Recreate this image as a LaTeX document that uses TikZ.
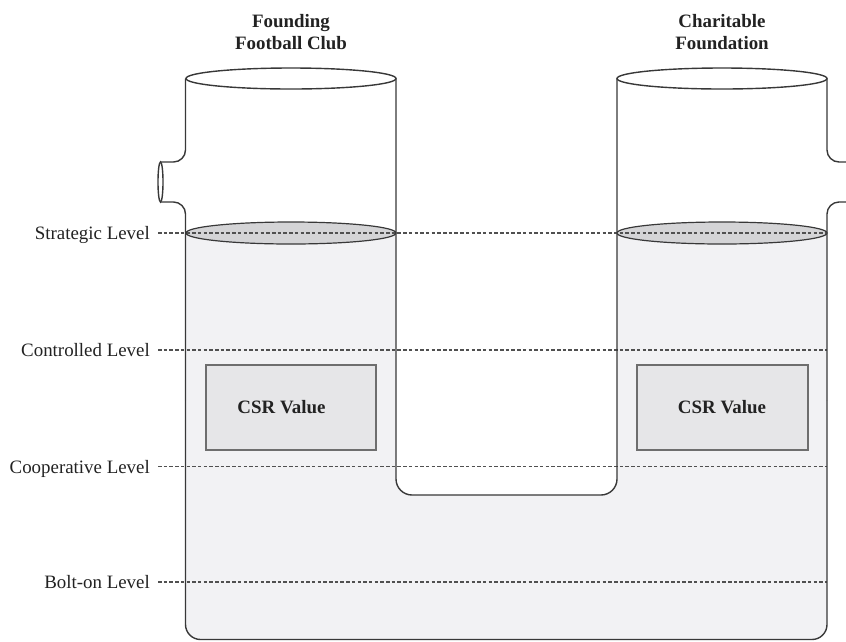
\documentclass[tikz,border=0pt]{standalone}
\usepackage{fontspec}
\setmainfont{Liberation Serif}
\definecolor{linegray}{HTML}{383838}
\definecolor{dashgray}{HTML}{505050}
\definecolor{liquid}{HTML}{F2F2F4}
\definecolor{ellgray}{HTML}{D4D4D6}
\definecolor{boxgray}{HTML}{E6E6E8}
\definecolor{boxline}{HTML}{6E6E6E}
\definecolor{textgray}{HTML}{222222}
\begin{document}
\begin{tikzpicture}[x=1pt,y=-1pt,
  wall/.style={draw=linegray, line width=1.4pt},
  levelline/.style={draw=dashgray, line width=1.3pt, dash pattern=on 3.5pt off 2.2pt},
  lbl/.style={font=\fontsize{18.9}{22}\selectfont, text=textgray, inner sep=0pt},
  ttl/.style={font=\fontsize{18.9}{22}\selectfont\bfseries, text=textgray, inner sep=0pt},
  csrbox/.style={fill=boxgray, draw=boxline, line width=1.5pt}]
\useasboundingbox (0,0) rectangle (846,641);
\begin{scope}
\clip (0,0) rectangle (846,641);
% liquid
\begin{scope}
\clip (0,233) rectangle (846,641);
\fill[liquid, rounded corners=15pt] (185.5,200) rectangle (827,639.5);
\end{scope}
\fill[white, rounded corners=16pt] (396,150) rectangle (617,495);
% strategic surfaces
\filldraw[fill=ellgray, draw=linegray, line width=1.2pt] (291,233) ellipse [x radius=105pt, y radius=11pt];
\filldraw[fill=ellgray, draw=linegray, line width=1.2pt] (722,233) ellipse [x radius=105pt, y radius=11pt];
% CSR boxes
\node[csrbox, minimum width=170pt, minimum height=85pt, inner sep=0pt] (boxL) at (291,407.5) {};
\node[csrbox, minimum width=171pt, minimum height=85pt, inner sep=0pt] (boxR) at (722.5,407.5) {};
\node[ttl, anchor=base] (csrL) at (281.5,413) {CSR Value};
\node[ttl, anchor=base] (csrR) at (722,413) {CSR Value};
% level lines
\coordinate (s0) at (158,233); \coordinate (s1) at (827,233);
\coordinate (c0) at (158,350); \coordinate (c1) at (827,350);
\coordinate (k0) at (158,466.7); \coordinate (k1) at (827,466.7);
\coordinate (b0) at (158,582); \coordinate (b1) at (827,582);
\draw[levelline] (s0) -- (s1);
\draw[levelline] (c0) -- (c1);
\draw[levelline] (k0) -- (k1);
\draw[levelline] (b0) -- (b1);
% top rims
\draw[wall] (291,78.5) ellipse [x radius=105pt, y radius=10.5pt];
\draw[wall] (722,78.5) ellipse [x radius=105pt, y radius=10.5pt];
% walls
\draw[wall, rounded corners=12pt] (185.5,78.5) -- (185.5,162) -- (160.5,162);
\draw[wall] (160.5,182) ellipse [x radius=2.5pt, y radius=20pt];
\draw[wall, rounded corners=12pt] (160.5,202) -- (185.5,202) -- (185.5,400);
\draw[wall, rounded corners=15pt] (185.5,400) -- (185.5,639.5) -- (827,639.5) -- (827,400);
\draw[wall, rounded corners=12pt] (827,400) -- (827,202) -- (860,202);
\draw[wall, rounded corners=12pt] (860,162) -- (827,162) -- (827,78.5);
\draw[wall, rounded corners=16pt] (396,78.5) -- (396,495) -- (617,495) -- (617,78.5);
\end{scope}
% labels
\node[lbl, anchor=base east] (lS) at (150,239.5) {Strategic Level};
\node[lbl, anchor=base east] (lC) at (150,356.5) {Controlled Level};
\node[lbl, anchor=base east] (lK) at (150,473.2) {Cooperative Level};
\node[lbl, anchor=base east] (lB) at (150,588.5) {Bolt-on Level};
% titles
\node[ttl, anchor=base] (t1a) at (291,27) {Founding};
\node[ttl, anchor=base] (t1b) at (291,49) {Football Club};
\node[ttl, anchor=base] (t2a) at (722,27) {Charitable};
\node[ttl, anchor=base] (t2b) at (722,49) {Foundation};
\end{tikzpicture}
\end{document}
